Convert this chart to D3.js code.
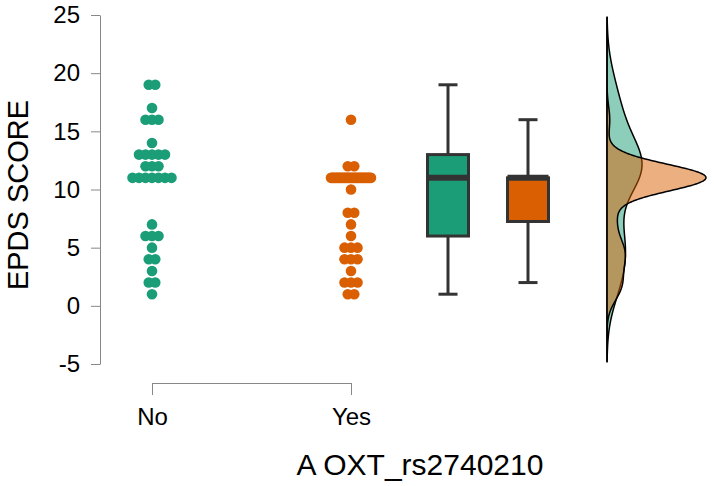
<!DOCTYPE html>
<html>
<head>
<meta charset="utf-8">
<script src="https://cdn.jsdelivr.net/npm/d3@7"></script>
<style>
  body { margin: 0; background: #fff; }
  svg text { font-family: "Liberation Sans", Arial, sans-serif; fill: #000; }
</style>
</head>
<body>
<svg id="chart"></svg>
<script>
const width = 714
const height = 486

// groups and EPDS scores
const groups = ["No", "Yes"]
const noScores = [19, 19, 17, 16, 16, 16, 14, 13, 13, 13, 13, 13, 12, 12, 12,
                  11, 11, 11, 11, 11, 11, 11, 7, 6, 6, 6, 5, 4, 4, 3, 2, 2, 1]
const yesScores = [16, 12, 12,
                   11, 11, 11, 11, 11, 11, 11, 11, 11, 11, 11, 11, 11, 11, 11, 11, 11,
                   11, 11, 11, 11, 11, 11, 11, 11, 11, 11, 11, 11, 11, 11, 11, 11, 11,
                   10, 8, 8, 7, 6, 5, 5, 5, 4, 4, 4, 3, 2, 2, 2, 1, 1]
const yTicks = [-5, 0, 5, 10, 15, 20, 25]
const colors = ["#1b9e77", "#d95f02"]

const series = [noScores, yesScores]

const svg = d3.select("#chart")
            .attr("width", width)
            .attr("height", height)

const y = d3.scaleLinear().domain([-5, 25]).range([364, 15])
const xDots = d3.scalePoint().domain(groups).range([152, 351])
const xBox = d3.scalePoint().domain(groups).range([448, 528])

// y axis
const yAxis = svg.append("g")
    .attr("transform", "translate(100,0)")
    .call(d3.axisLeft(y).tickValues(yTicks).tickFormat(d => String(d))
            .tickSize(9).tickSizeOuter(0).tickPadding(11))
yAxis.selectAll("path, line").attr("stroke", "#888")
yAxis.selectAll("text").style("font-size", "24px")

// x axis bracket (dots only)
const xAxis = svg.append("g")
    .attr("transform", "translate(0,383)")
    .call(d3.axisBottom(xDots).tickSize(12).tickSizeOuter(0).tickPadding(13))
xAxis.selectAll("path, line").attr("stroke", "#888")
xAxis.selectAll("text").style("font-size", "24px")

// axis titles
svg.append("text")
   .attr("transform", "translate(28,195) rotate(-90)")
   .attr("text-anchor", "middle")
   .style("font-size", "29px")
   .text("EPDS SCORE")

svg.append("text")
   .attr("x", 420)
   .attr("y", 475)
   .attr("text-anchor", "middle")
   .style("font-size", "30px")
   .text("A OXT_rs2740210")

// dots: points with the same score are spread on one row
series.forEach(function(vals, gi) {
    const rows = d3.group(vals, v => v)
    const pts = []
    rows.forEach(function(list, v) {
        const k = list.length
        const step = k > 1 ? Math.min(6.5, 40 / (k - 1)) : 0
        list.forEach(function(d, i) {
            pts.push({ v: v, off: (i - (k - 1) / 2) * step })
        })
    })
    svg.append("g").selectAll("circle")
       .data(pts)
       .enter()
       .append("circle")
       .attr("cx", d => xDots(groups[gi]) + d.off)
       .attr("cy", d => y(d.v))
       .attr("r", 5.3)
       .attr("fill", colors[gi])
})

// box plots
const boxW = 41
const capW = 19
series.forEach(function(vals, gi) {
    const s = vals.slice().sort(d3.ascending)
    const q1 = d3.quantile(s, 0.25)
    const med = d3.quantile(s, 0.5)
    const q3 = d3.quantile(s, 0.75)
    const iqr = q3 - q1
    const lo = d3.min(s.filter(v => v >= q1 - 1.5 * iqr))
    const hi = d3.max(s.filter(v => v <= q3 + 1.5 * iqr))
    const cx = xBox(groups[gi])
    const g = svg.append("g").attr("stroke", "#333").attr("stroke-width", 3)

    g.append("line").attr("x1", cx).attr("x2", cx).attr("y1", y(hi)).attr("y2", y(q3))
    g.append("line").attr("x1", cx).attr("x2", cx).attr("y1", y(q1)).attr("y2", y(lo))
    g.append("line").attr("x1", cx - capW / 2).attr("x2", cx + capW / 2).attr("y1", y(hi)).attr("y2", y(hi))
    g.append("line").attr("x1", cx - capW / 2).attr("x2", cx + capW / 2).attr("y1", y(lo)).attr("y2", y(lo))
    g.append("rect")
     .attr("x", cx - boxW / 2)
     .attr("y", y(q3))
     .attr("width", boxW)
     .attr("height", y(q1) - y(q3))
     .attr("fill", colors[gi])
    g.append("line")
     .attr("x1", cx - boxW / 2).attr("x2", cx + boxW / 2)
     .attr("y1", y(med)).attr("y2", y(med))
     .attr("stroke-width", 6)
})

// densities (gaussian kernel, nrd0 bandwidth)
function bwNrd0(vals) {
    const s = vals.slice().sort(d3.ascending)
    const iqr = d3.quantile(s, 0.75) - d3.quantile(s, 0.25)
    const lo = Math.min(d3.deviation(s), iqr / 1.34)
    return 0.9 * lo * Math.pow(s.length, -0.2)
}
function kde(vals, grid) {
    const h = bwNrd0(vals)
    return grid.map(function(t) {
        const sum = d3.sum(vals, v => Math.exp(-0.5 * ((t - v) / h) ** 2))
        return [t, sum / (vals.length * h * Math.sqrt(2 * Math.PI))]
    })
}
const grid = d3.range(-4.8, 24.81, 0.05)
const dens = series.map(vals => kde(vals, grid))
const maxD = d3.max(dens, d => d3.max(d, p => p[1]))
const xDens = d3.scaleLinear().domain([0, maxD]).range([607, 706])

const area = d3.area()
    .curve(d3.curveBasis)
    .y(d => y(d[0]))
    .x0(xDens(0))
    .x1(d => xDens(d[1]))

dens.forEach(function(d, gi) {
    svg.append("path")
       .datum(d)
       .attr("d", area)
       .attr("fill", colors[gi])
       .attr("fill-opacity", 0.5)
       .attr("stroke", "#000")
       .attr("stroke-width", 1.5)
})
</script>
</body>
</html>
